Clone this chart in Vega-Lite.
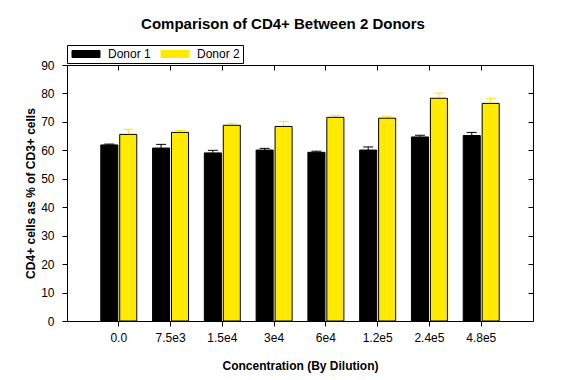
{
  "$schema": "https://vega.github.io/schema/vega-lite/v6.json",
  "width": 466,
  "height": 256,
  "autosize": "none",
  "padding": {"left": 67, "top": 65, "right": 29, "bottom": 59},
  "background": "white",
  "title": {
    "text": "Comparison of CD4+ Between 2 Donors",
    "font": "Liberation Sans",
    "fontSize": 15,
    "fontWeight": "bold",
    "color": "black",
    "anchor": "middle",
    "frame": "group",
    "dx": -17,
    "offset": 13
  },
  "config": {
    "view": {"stroke": null},
    "font": "Liberation Sans",
    "axis": {
      "labelFont": "Liberation Sans",
      "labelFontSize": 12,
      "labelColor": "black",
      "titleFont": "Liberation Sans",
      "titleFontSize": 12,
      "titleFontWeight": "bold",
      "titleColor": "black",
      "domainColor": "black",
      "tickColor": "black",
      "grid": false
    },
    "legend": {
      "labelFont": "Liberation Sans",
      "labelFontSize": 12,
      "labelColor": "black"
    }
  },
  "data": {
    "values": [
      {"conc": "0.0", "donor": "Donor 1", "value": 61.9, "upper": 62.2},
      {"conc": "0.0", "donor": "Donor 2", "value": 65.6, "upper": 67.4},
      {"conc": "7.5e3", "donor": "Donor 1", "value": 60.8, "upper": 62.1},
      {"conc": "7.5e3", "donor": "Donor 2", "value": 66.3, "upper": 67.0},
      {"conc": "1.5e4", "donor": "Donor 1", "value": 59.1, "upper": 60.0},
      {"conc": "1.5e4", "donor": "Donor 2", "value": 68.8, "upper": 69.5},
      {"conc": "3e4", "donor": "Donor 1", "value": 60.1, "upper": 60.7},
      {"conc": "3e4", "donor": "Donor 2", "value": 68.4, "upper": 70.2},
      {"conc": "6e4", "donor": "Donor 1", "value": 59.3, "upper": 59.7},
      {"conc": "6e4", "donor": "Donor 2", "value": 71.6, "upper": 72.3},
      {"conc": "1.2e5", "donor": "Donor 1", "value": 60.1, "upper": 61.2},
      {"conc": "1.2e5", "donor": "Donor 2", "value": 71.3, "upper": 72.0},
      {"conc": "2.4e5", "donor": "Donor 1", "value": 64.7, "upper": 65.3},
      {"conc": "2.4e5", "donor": "Donor 2", "value": 78.3, "upper": 80.1},
      {"conc": "4.8e5", "donor": "Donor 1", "value": 65.2, "upper": 66.3},
      {"conc": "4.8e5", "donor": "Donor 2", "value": 76.5, "upper": 78.3}
    ]
  },
  "layer": [
    {
      "mark": {"type": "rule", "strokeWidth": 1, "opacity": 1},
      "encoding": {
        "x": {
          "field": "conc",
          "type": "nominal",
          "sort": null,
          "scale": {"paddingInner": 0.305, "paddingOuter": 0.6525},
          "axis": {
            "orient": "bottom",
            "title": "Concentration (By Dilution)",
            "labelAngle": 0,
            "tickSize": 5,
            "labelPadding": 6,
            "titlePadding": 17,
            "domainWidth": 1
          }
        },
        "xOffset": {"field": "donor", "type": "nominal", "scale": {"paddingInner": 0.1}},
        "y": {
          "field": "value",
          "type": "quantitative",
          "scale": {"domain": [0, 90], "nice": false},
          "axis": {
            "orient": "left",
            "title": "CD4+ cells as % of CD3+ cells",
            "values": [0, 10, 20, 30, 40, 50, 60, 70, 80, 90],
            "tickSize": 5,
            "labelPadding": 8,
            "titlePadding": 3
          }
        },
        "y2": {"field": "upper"},
        "color": {
          "field": "donor",
          "type": "nominal",
          "scale": {"domain": ["Donor 1", "Donor 2"], "range": ["#000000", "#ffea00"]}
        }
      }
    },
    {
      "mark": {"type": "tick", "thickness": 1, "size": 10, "opacity": 1},
      "encoding": {
        "x": {
          "field": "conc",
          "type": "nominal",
          "sort": null,
          "scale": {"paddingInner": 0.305, "paddingOuter": 0.6525},
          "axis": {
            "orient": "top",
            "title": null,
            "labels": false,
            "tickSize": -5,
            "domainWidth": 1
          }
        },
        "xOffset": {"field": "donor", "type": "nominal", "scale": {"paddingInner": 0.1}},
        "y": {
          "field": "upper",
          "type": "quantitative",
          "scale": {"domain": [0, 90], "nice": false},
          "axis": {
            "orient": "right",
            "title": null,
            "labels": false,
            "values": [0, 10, 20, 30, 40, 50, 60, 70, 80, 90],
            "tickSize": -5
          }
        },
        "color": {
          "field": "donor",
          "type": "nominal",
          "scale": {"domain": ["Donor 1", "Donor 2"], "range": ["#000000", "#ffea00"]}
        }
      }
    },
    {
      "mark": {"type": "bar", "stroke": "black", "strokeWidth": 1, "opacity": 1},
      "encoding": {
        "x": {
          "field": "conc",
          "type": "nominal",
          "sort": null,
          "scale": {"paddingInner": 0.305, "paddingOuter": 0.6525},
          "axis": null
        },
        "xOffset": {"field": "donor", "type": "nominal", "scale": {"paddingInner": 0.1}},
        "y": {
          "field": "value",
          "type": "quantitative",
          "scale": {"domain": [0, 90], "nice": false},
          "axis": null
        },
        "color": {
          "field": "donor",
          "type": "nominal",
          "scale": {"domain": ["Donor 1", "Donor 2"], "range": ["#000000", "#ffea00"]},
          "legend": {
            "title": null,
            "orient": "none",
            "direction": "horizontal",
            "legendX": 0,
            "legendY": -20,
            "strokeColor": "black",
            "padding": 3,
            "symbolType": "M-1,-0.875H6V0.875H-1Z",
            "symbolSize": 64,
            "symbolOpacity": 1,
            "symbolStrokeColor": "black",
            "symbolStrokeWidth": 1,
            "labelOffset": 26,
            "columnPadding": 8
          }
        }
      }
    }
  ],
  "resolve": {
    "scale": {"x": "independent", "y": "independent"},
    "axis": {"x": "independent", "y": "independent"}
  }
}
